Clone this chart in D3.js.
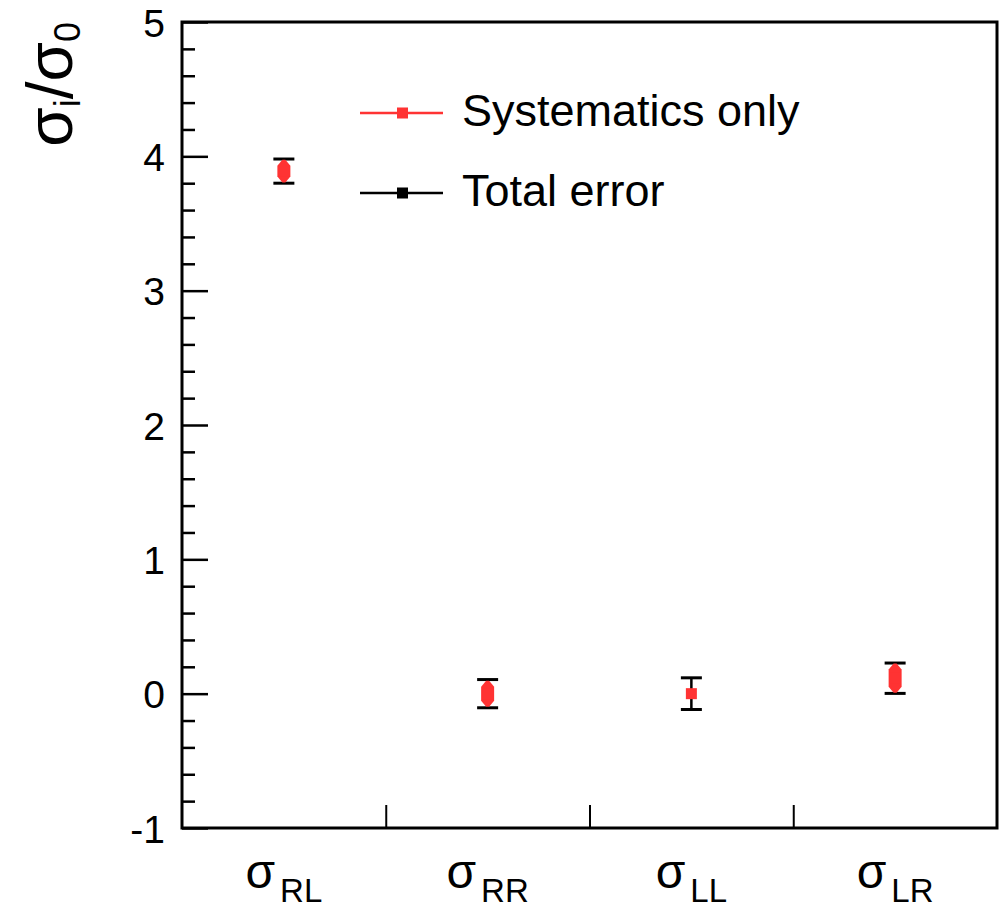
<!DOCTYPE html>
<html>
<head>
<meta charset="utf-8">
<script src="https://cdn.jsdelivr.net/npm/d3@7"></script>
<style>
  html, body { margin: 0; padding: 0; background: #fff; }
  text { font-family: "Liberation Sans", Arial, Helvetica, sans-serif; }
</style>
</head>
<body>
<svg id="chart" width="1007" height="909"></svg>
<script>
// ---- data ----
const categories = ["RL", "RR", "LL", "LR"];
const values = [3.89, 0.0, 0.0, 0.115];
const totalErrors = [0.09, 0.105, 0.118, 0.113];
const systErrors = [0.084, 0.097, 0.03, 0.109];
const yMajorTicks = [-1, 0, 1, 2, 3, 4, 5];
const legendLabels = ["Systematics only", "Total error"];
const legendColors = ["#ff3333", "#000000"];

// ---- layout ----
const L = 182, R = 997, T = 22, B = 828;
const svg = d3.select("#chart");

const y = d3.scaleLinear().domain([-1, 5]).range([B, T]);
const xBin = d3.scaleLinear().domain([0, categories.length]).range([L, R]);
const xBand = d3.scaleBand().domain(categories).range([L, R]).padding(0);

// y minor ticks
const minorTicks = d3.range(-1, 5.0001, 0.2).map(v => Math.round(v * 10) / 10)
  .filter(v => !yMajorTicks.includes(v));
const yMinor = svg.append("g").attr("transform", `translate(${L},0)`)
  .call(d3.axisLeft(y).tickValues(minorTicks).tickSize(-13).tickFormat(""));
yMinor.select(".domain").remove();
yMinor.selectAll("line").attr("stroke", "#000").attr("stroke-width", 2.5);

// y major ticks
const yMajor = svg.append("g").attr("transform", `translate(${L},0)`)
  .call(d3.axisLeft(y).tickValues(yMajorTicks).tickSize(-26).tickPadding(17)
    .tickFormat(d3.format("d")));
yMajor.select(".domain").remove();
yMajor.selectAll("line").attr("stroke", "#000").attr("stroke-width", 2.5);
yMajor.selectAll("text").attr("font-size", 39).attr("fill", "#000")
  .attr("font-family", "Liberation Sans, Arial, sans-serif").attr("dy", "0.36em")
  .text(d => d < 0 ? "-" + Math.abs(d) : d);

// x ticks at bin edges
const xAx = svg.append("g").attr("transform", `translate(0,${B})`)
  .call(d3.axisBottom(xBin).tickValues(d3.range(1, categories.length)).tickSize(-23).tickFormat(""));
xAx.select(".domain").remove();
xAx.selectAll("line").attr("stroke", "#000").attr("stroke-width", 2);

// x labels
categories.forEach(c => {
  const t = svg.append("text")
    .attr("x", xBand(c) + xBand.bandwidth() / 2)
    .attr("y", 888)
    .attr("text-anchor", "middle")
    .attr("fill", "#000");
  t.append("tspan").attr("font-size", 48).text("σ");
  t.append("tspan").attr("font-size", 33).attr("dx", 5).attr("dy", 14).text(c);
});

// frame
svg.append("rect").attr("x", L).attr("y", T).attr("width", R - L).attr("height", B - T)
  .attr("fill", "none").attr("stroke", "#000").attr("stroke-width", 3);

// y title
const yt = svg.append("text")
  .attr("transform", `translate(72,${T}) rotate(-90)`)
  .attr("text-anchor", "end").attr("fill", "#000");
yt.append("tspan").attr("font-size", 64).text("σ");
yt.append("tspan").attr("font-size", 36).attr("dy", 8).text("i");
yt.append("tspan").attr("font-size", 64).attr("dy", -8).text("/σ");
yt.append("tspan").attr("font-size", 36).attr("dy", 8).text("0");

// data points
const pts = svg.append("g");
categories.forEach((c, i) => {
  const cx = xBand(c) + xBand.bandwidth() / 2;
  const v = values[i];
  const yt0 = y(v + totalErrors[i]), yb0 = y(v - totalErrors[i]);
  // total error bars (black)
  pts.append("line").attr("x1", cx).attr("x2", cx).attr("y1", yt0).attr("y2", yb0)
    .attr("stroke", "#000").attr("stroke-width", 2.5);
  [yt0, yb0].forEach(yy => pts.append("line").attr("x1", cx - 10.5).attr("x2", cx + 10.5)
    .attr("y1", yy).attr("y2", yy).attr("stroke", "#000").attr("stroke-width", 3));
  // systematic band (red)
  const ys0 = y(v + systErrors[i]), ys1 = y(v - systErrors[i]);
  if (ys1 - ys0 > 12) {
    const w = 6.5, n = 1.5, s = Math.min(6, (ys1 - ys0) / 2);
    const poly = [[cx - n, ys0], [cx + n, ys0], [cx + w, ys0 + s], [cx + w, ys1 - s],
                  [cx + n, ys1], [cx - n, ys1], [cx - w, ys1 - s], [cx - w, ys0 + s]];
    pts.append("path").attr("d", d3.line()(poly) + "Z").attr("fill", "#ff3333");
  }
  pts.append("rect").attr("x", cx - 5.5).attr("y", y(v) - 5.5).attr("width", 11).attr("height", 11)
    .attr("fill", "#ff3333");
});

// legend
const legY = [113, 193];
legendLabels.forEach((lab, i) => {
  const g = svg.append("g");
  g.append("line").attr("x1", 360).attr("x2", 443).attr("y1", legY[i]).attr("y2", legY[i])
    .attr("stroke", legendColors[i]).attr("stroke-width", 2.5);
  g.append("rect").attr("x", 397).attr("y", legY[i] - 5.5).attr("width", 11).attr("height", 11)
    .attr("fill", legendColors[i]);
  g.append("text").attr("x", 462).attr("y", legY[i] + 13).attr("font-size", 45)
    .attr("fill", "#000").text(lab);
});
</script>
</body>
</html>
